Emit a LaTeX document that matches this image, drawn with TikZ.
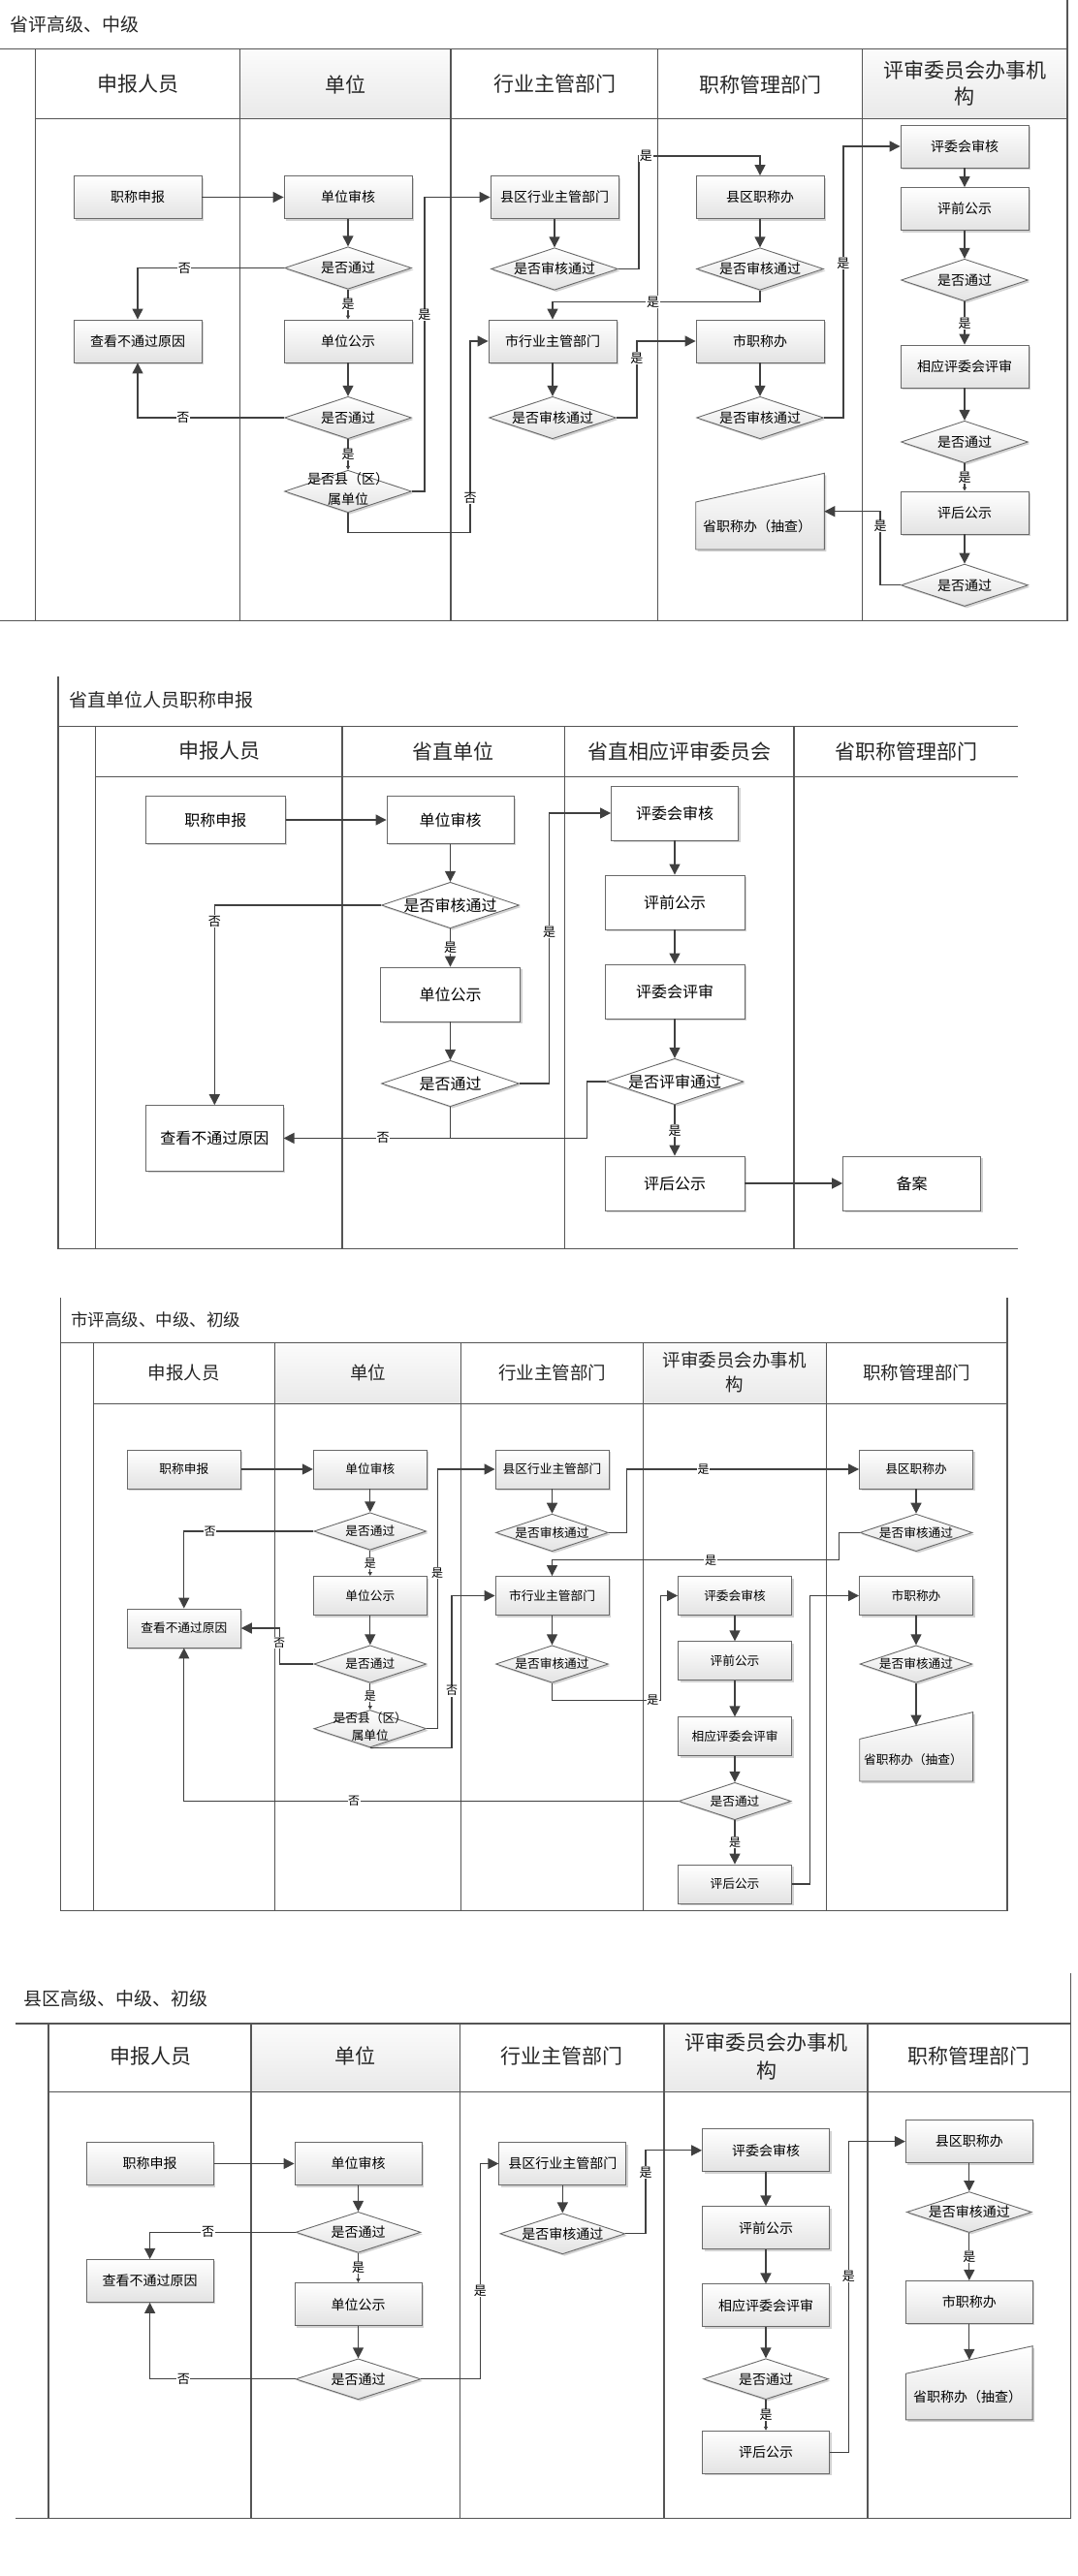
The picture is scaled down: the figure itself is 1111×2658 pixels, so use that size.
\documentclass[tikz,border=0pt]{standalone}
\usepackage{fontspec}
\setmainfont{Noto Sans CJK SC}
\usetikzlibrary{shapes.geometric,arrows.meta,shadows}
\definecolor{lanec}{RGB}{85,85,85}
\definecolor{boxc}{RGB}{105,105,105}
\definecolor{arrc}{RGB}{64,64,64}
\newcommand{\fs}[2]{\fontsize{#1}{#2}\selectfont}
\newcommand{\dtwo}[3]{\makebox[0pt]{\begin{tabular}{@{}c@{}}#1\\[#3]#2\end{tabular}}}
\begin{document}
\begin{tikzpicture}[x=1pt,y=-1pt,
   lane/.style={draw=lanec,line width=1.2pt},
   hgray/.style={top color=gray!3,bottom color=gray!17},
   ttl/.style={anchor=west,font=\fs{19}{22},text=black!85},
   head/.style={align=center,font=\fs{21}{27},text=black!85},
   box/.style={draw=boxc,line width=0.9pt,top color=white,bottom color=gray!22,inner sep=0pt,
      drop shadow={shadow xshift=2pt,shadow yshift=-2pt,fill=gray!50,opacity=0.7}},
   wbox/.style={box,top color=white,bottom color=white},
   dia/.style={box,diamond,aspect=3},
   wdia/.style={wbox,diamond,aspect=3},
   szA/.style={minimum width=132pt,minimum height=44pt,font=\fs{14}{17}},
   dszA/.style={minimum width=131pt,minimum height=43.5pt,font=\fs{14}{17}},
   szB/.style={minimum width=144pt,minimum height=56pt,font=\fs{16}{19}},
   dszB/.style={minimum width=142pt,minimum height=47.5pt,font=\fs{16}{19}},
   szC/.style={minimum width=117pt,minimum height=40pt,font=\fs{12.7}{15}},
   dszC/.style={minimum width=116pt,minimum height=38.5pt,font=\fs{12.7}{15}},
   szD/.style={minimum width=131pt,minimum height=44pt,font=\fs{14}{17}},
   dszD/.style={minimum width=129pt,minimum height=42pt,font=\fs{14}{17}},
   arr/.style={draw=arrc,line width=1.3pt,-{Triangle[width=11pt,length=11pt]}},
   sarr/.style={arr,-{Triangle[width=4pt,length=4pt]}},
   link/.style={draw=arrc,line width=1.3pt},
   lbl/.style={fill=white,inner sep=0.6pt,font=\fs{13}{13}},
   lblC/.style={lbl,font=\fs{12}{12}}]
   \useasboundingbox (0,0) rectangle (1111,2658);

   %省评高级、中级
   \shade[hgray] (247.5,50.6) rectangle (465,122.7);
   \shade[hgray] (889.6,50.6) rectangle (1101,122.7);
   \draw[lane] (0,50.6) -- (1101,50.6) (36.8,122.7) -- (1101,122.7) (0,640.5) -- (1101,640.5) (1101,0) -- (1101,640.5)
      (36.8,50.6) -- (36.8,640.5) (247.5,50.6) -- (247.5,640.5) (465,50.6) -- (465,640.5)
      (678.4,50.6) -- (678.4,640.5) (889.6,50.6) -- (889.6,640.5);
   \node[ttl] (aT) at (7,25) {省评高级、中级};
   \node[head] (aH1) at (142.2,87) {申报人员};
   \node[head] (aH2) at (356.2,87) {单位};
   \node[head] (aH3) at (572,87) {行业主管部门};
   \node[head] (aH4) at (784,87) {职称管理部门};
   \node[head] (aH5) at (995,86) {评审委员会办事机\\构};
   %boxes
   \node[box,szA] (aApply) at (142,203.5) {职称申报};
   \node[box,szA] (aUnitChk) at (359,203.5) {单位审核};
   \node[dia,dszA] (aD1) at (359,276.5) {是否通过};
   \node[box,szA] (aView) at (142,352) {查看不通过原因};
   \node[box,szA] (aUnitPub) at (359,352) {单位公示};
   \node[dia,dszA] (aD2) at (359,431) {是否通过};
   \node[dia,dszA] (aD3) at (359,507) {\dtwo{是否县（区）}{属单位}{4pt}};
   \node[box,szA] (aCounty) at (572,203.5) {县区行业主管部门};
   \node[dia,dszA] (aCD) at (572,277.5) {是否审核通过};
   \node[box,szA] (aCity) at (570,352) {市行业主管部门};
   \node[dia,dszA] (aCityD) at (570,431) {是否审核通过};
   \node[box,szA] (aCtyOff) at (784,203.5) {县区职称办};
   \node[dia,dszA] (aCtyOffD) at (784,277.5) {是否审核通过};
   \node[box,szA] (aCityOff) at (784,352) {市职称办};
   \node[dia,dszA] (aCityOffD) at (784,431) {是否审核通过};
   \draw[box] (717.7,567) -- (717.7,518) -- (850.3,488.3) -- (850.3,567) -- cycle;
   \node[font=\fs{14}{17}] (aProv) at (781,543) {省职称办（抽查）};
   \coordinate (aProvIn) at (850.3,527.7);
   \node[box,szA] (aRev) at (995,151) {评委会审核};
   \node[box,szA] (aPre) at (995,215.5) {评前公示};
   \node[dia,dszA] (aRD1) at (995,289) {是否通过};
   \node[box,szA] (aJudge) at (995,378) {相应评委会评审};
   \node[dia,dszA] (aRD2) at (995,456) {是否通过};
   \node[box,szA] (aPost) at (995,529) {评后公示};
   \node[dia,dszA] (aRD3) at (995,603.8) {是否通过};
   %arrows
   \draw[arr] (aApply) -- (aUnitChk);
   \draw[arr] (aUnitChk) -- (aD1);
   \draw[arr] (aD1.west) -| node[lbl,pos=0.34] (aL1) {否} (aView.north);
   \draw[sarr] (aD1) -- node[lbl] (aL2) {是} (aUnitPub);
   \draw[arr] (aUnitPub) -- (aD2);
   \draw[arr] (aD2.west) -| node[lbl,pos=0.345] (aL3) {否} (aView.south);
   \draw[sarr] (aD2) -- node[lbl] (aL4) {是} (aD3);
   \draw[arr] (aD3.east) -- ++(13,0) |- node[lbl,pos=0.3] (aL5) {是} (aCounty.west);
   \draw[arr] (aD3.south) -- ++(0,20.5) -- ++(126,0) |- node[lbl,pos=0.09] (aL6) {否} (aCity.west);
   \draw[arr] (aCounty) -- (aCD);
   \draw[arr] (aCD.east) -- ++(21,0) -- ++(0,-116.5) -| node[lbl,pos=0.03] (aL7) {是} (aCtyOff.north);
   \draw[arr] (aCtyOff) -- (aCtyOffD);
   \draw[arr] (aCtyOffD.south) -- ++(0,12) -| node[lbl,pos=0.258] (aL8) {是} (aCity.north);
   \draw[arr] (aCity) -- (aCityD);
   \draw[arr] (aCityD.east) -- ++(21,0) |- node[lbl,pos=0.39] (aL9) {是} (aCityOff.west);
   \draw[arr] (aCityOff) -- (aCityOffD);
   \draw[arr] (aCityOffD.east) -- ++(20,0) |- node[lbl,pos=0.285] (aL10) {是} (aRev.west);
   \draw[arr] (aRev) -- (aPre);
   \draw[arr] (aPre) -- (aRD1);
   \draw[arr] (aRD1) -- node[lbl] (aL11) {是} (aJudge);
   \draw[arr] (aJudge) -- (aRD2);
   \draw[sarr] (aRD2) -- node[lbl] (aL12) {是} (aPost);
   \draw[arr] (aPost) -- (aRD3);
   \draw[arr] (aRD3.west) -- ++(-21,0) |- node[lbl,pos=0.4] (aL13) {是} (aProvIn);

   %省直单位人员职称申报
   \draw[lane] (60,697.8) -- (60,1288.5) (60,749.2) -- (1049.8,749.2) (98.2,801.8) -- (1049.8,801.8)
      (60,1288.5) -- (1049.8,1288.5) (98.2,749.2) -- (98.2,1288.5) (352.9,749.2) -- (352.9,1288.5)
      (582.2,749.2) -- (582.2,1288.5) (819,749.2) -- (819,1288.5);
   \node[ttl] (bT) at (68,722.7) {省直单位人员职称申报};
   \node[head] (bH1) at (226.8,775) {申报人员};
   \node[head] (bH2) at (467.9,775) {省直单位};
   \node[head] (bH3) at (700.5,775) {省直相应评审委员会};
   \node[head] (bH4) at (935,775) {省职称管理部门};
   %boxes
   \node[wbox,szB,minimum height=48.6pt] (bApply) at (222.3,846) {职称申报};
   \node[wbox,szB,minimum width=131pt,minimum height=48.6pt] (bUnitChk) at (464.5,846) {单位审核};
   \node[wdia,dszB] (bD1) at (464.5,934) {是否审核通过};
   \node[wbox,szB] (bUnitPub) at (464.5,1026) {单位公示};
   \node[wdia,dszB] (bD2) at (464.5,1118) {是否通过};
   \node[wbox,szB,minimum width=141.6pt,minimum height=67.6pt] (bView) at (221.3,1174.4) {查看不通过原因};
   \node[wbox,szB,minimum width=131pt] (bRev) at (696,839) {评委会审核};
   \node[wbox,szB] (bPre) at (696,931) {评前公示};
   \node[wbox,szB] (bJudge) at (696,1023) {评委会评审};
   \node[wdia,dszB] (bRD) at (696,1116) {是否评审通过};
   \node[wbox,szB] (bPost) at (696,1221) {评后公示};
   \node[wbox,szB,minimum width=142pt] (bFile) at (940.6,1221) {备案};
   %arrows
   \draw[arr] (bApply) -- (bUnitChk);
   \draw[arr] (bUnitChk) -- (bD1);
   \draw[arr] (bD1.west) -| node[lbl,pos=0.54] (bL1) {否} (bView.north);
   \draw[arr] (bD1) -- node[lbl] (bL2) {是} (bUnitPub);
   \draw[arr] (bUnitPub) -- (bD2);
   \draw[arr] (bD2.east) -- ++(30.7,0) |- node[lbl,pos=0.28] (bL3) {是} (bRev.west);
   \draw[arr] (bRev) -- (bPre);
   \draw[arr] (bPre) -- (bJudge);
   \draw[arr] (bJudge) -- (bRD);
   \draw[arr] (bRD.west) -- ++(-19.3,0) |- node[lbl,pos=0.836] (bL4) {否} (bView.east);
   \draw[link] (bD2.south) -- (bD2.south |- bView.east);
   \draw[arr] (bRD) -- node[lbl] (bL5) {是} (bPost);
   \draw[arr] (bPost) -- (bFile);

   %市评高级、中级、初级
   \shade[hgray] (283.2,1385.4) rectangle (475.7,1448.2);
   \shade[hgray] (663.8,1385.4) rectangle (852.1,1448.2);
   \draw[lane] (62.5,1339) -- (62.5,1971.7) (1038.9,1339) -- (1038.9,1971.7) (62.5,1385.4) -- (1038.9,1385.4)
      (96.4,1448.2) -- (1038.9,1448.2) (62.5,1971.7) -- (1038.9,1971.7) (96.4,1385.4) -- (96.4,1971.7)
      (283.2,1385.4) -- (283.2,1971.7) (475.7,1385.4) -- (475.7,1971.7) (663.8,1385.4) -- (663.8,1971.7)
      (852.1,1385.4) -- (852.1,1971.7);
   \node[ttl,font=\fs{17.5}{21}] (cT) at (69.6,1361.5) {市评高级、中级、初级};
   \node[head,font=\fs{18.5}{25.7}] (cH1) at (189.8,1416) {申报人员};
   \node[head,font=\fs{18.5}{25.7}] (cH2) at (379.5,1416) {单位};
   \node[head,font=\fs{18.5}{25.7}] (cH3) at (569.8,1416) {行业主管部门};
   \node[head,font=\fs{18.5}{25.7}] (cH4) at (757.9,1416) {评审委员会办事机\\构};
   \node[head,font=\fs{18.5}{25.7}] (cH5) at (945.5,1416) {职称管理部门};
   %boxes
   \node[box,szC] (cApply) at (189.8,1516) {职称申报};
   \node[box,szC] (cUnitChk) at (381.8,1516) {单位审核};
   \node[dia,dszC] (cD1) at (381.8,1580) {是否通过};
   \node[box,szC] (cUnitPub) at (381.8,1646.5) {单位公示};
   \node[dia,dszC] (cD2) at (381.8,1717) {是否通过};
   \node[dia,dszC] (cD3) at (381.8,1783.7) {\dtwo{是否县（区）}{属单位}{2.6pt}};
   \node[box,szC] (cView) at (189.8,1680) {查看不通过原因};
   \node[box,szC] (cCounty) at (569.5,1516) {县区行业主管部门};
   \node[dia,dszC] (cCD) at (569.5,1581.4) {是否审核通过};
   \node[box,szC] (cCity) at (569.5,1646.5) {市行业主管部门};
   \node[dia,dszC] (cCityD) at (569.5,1717) {是否审核通过};
   \node[box,szC] (cRev) at (758,1646.5) {评委会审核};
   \node[box,szC] (cPre) at (758,1713.8) {评前公示};
   \node[box,szC] (cJudge) at (758,1791.8) {相应评委会评审};
   \node[dia,dszC] (cRD) at (758,1858.5) {是否通过};
   \node[box,szC] (cPost) at (758,1944) {评后公示};
   \node[box,szC] (cCtyOff) at (945,1516) {县区职称办};
   \node[dia,dszC] (cCtyOffD) at (945,1581.4) {是否审核通过};
   \node[box,szC] (cCityOff) at (945,1646.5) {市职称办};
   \node[dia,dszC] (cCityOffD) at (945,1717) {是否审核通过};
   \draw[box] (886.7,1838) -- (886.7,1794.4) -- (1003.6,1766.6) -- (1003.6,1838) -- cycle;
   \node[font=\fs{12.7}{15}] (cProv) at (942,1815.7) {省职称办（抽查）};
   \coordinate (cProvIn) at (945,1780.5);
   %arrows
   \draw[arr] (cApply) -- (cUnitChk);
   \draw[arr] (cUnitChk) -- (cD1);
   \draw[arr] (cD1.west) -| node[lblC,pos=0.4] (cL1) {否} (cView.north);
   \draw[sarr] (cD1) -- node[lblC] (cL2) {是} (cUnitPub);
   \draw[arr] (cUnitPub) -- (cD2);
   \draw[arr] (cD2.west) -- ++(-35.2,0) |- node[lblC,pos=0.3] (cL3) {否} (cView.east);
   \draw[sarr] (cD2) -- node[lblC] (cL4) {是} (cD3);
   \draw[arr] (cD3.east) -- ++(10.9,0) |- node[lblC,pos=0.3] (cL5) {是} (cCounty.west);
   \draw[arr] (cD3.south) -- ++(84.2,0) |- node[lblC,pos=0.187] (cL6) {否} (cCity.west);
   \draw[arr] (cRD.west) -| node[lblC,pos=0.328] (cL7) {否} (cView.south);
   \draw[arr] (cCounty) -- (cCD);
   \draw[arr] (cCD.east) -- ++(18.8,0) |- node[lblC,pos=0.665] (cL8) {是} (cCtyOff.west);
   \draw[arr] (cCtyOff) -- (cCtyOffD);
   \draw[arr] (cCtyOffD.west) -- ++(-20.8,0) -- ++(0,28.3) -| node[lblC,pos=0.224] (cL9) {是} (cCity.north);
   \draw[arr] (cCity) -- (cCityD);
   \draw[arr] (cCityD.south) -- ++(0,17.5) -- node[lblC,pos=0.93] (cL10) {是} ++(111.8,0) |- (cRev.west);
   \draw[arr] (cRev) -- (cPre);
   \draw[arr] (cPre) -- (cJudge);
   \draw[arr] (cJudge) -- (cRD);
   \draw[arr] (cRD) -- node[lblC] (cL11) {是} (cPost);
   \draw[arr] (cPost.east) -- ++(18.5,0) |- (cCityOff.west);
   \draw[arr] (cCityOff) -- (cCityOffD);
   \draw[arr] (cCityOffD.south) -- (cProvIn);

   %县区高级、中级、初级
   \shade[hgray] (258.9,2088) rectangle (474.3,2158.3);
   \shade[hgray] (685,2088) rectangle (895,2158.3);
   \draw[lane] (1104.5,2036) -- (1104.5,2598.5) (16,2088) -- (1104.5,2088) (50,2158.3) -- (1104.5,2158.3)
      (16,2598.5) -- (1104.5,2598.5) (50,2088) -- (50,2598.5) (258.9,2088) -- (258.9,2598.5)
      (474.3,2088) -- (474.3,2598.5) (685,2088) -- (685,2598.5) (895,2088) -- (895,2598.5);
   \node[ttl] (dT) at (20.7,2061.9) {县区高级、中级、初级};
   \node[head] (dH1) at (155.4,2121.7) {申报人员};
   \node[head] (dH2) at (366.6,2121.7) {单位};
   \node[head] (dH3) at (579.6,2121.7) {行业主管部门};
   \node[head,font=\fs{21}{28.5}] (dH4) at (790.5,2121.7) {评审委员会办事机\\构};
   \node[head] (dH5) at (999.6,2121.7) {职称管理部门};
   %boxes
   \node[box,szD] (dApply) at (154.6,2232.5) {职称申报};
   \node[box,szD] (dUnitChk) at (369.5,2232.5) {单位审核};
   \node[dia,dszD] (dD1) at (369.5,2303.3) {是否通过};
   \node[box,szD] (dUnitPub) at (369.5,2377.6) {单位公示};
   \node[dia,dszD] (dD2) at (369.5,2454.8) {是否通过};
   \node[box,szD] (dView) at (154.6,2353.4) {查看不通过原因};
   \node[box,szD] (dCounty) at (580.3,2232.5) {县区行业主管部门};
   \node[dia,dszD] (dCD) at (580.3,2304.8) {是否审核通过};
   \node[box,szD] (dRev) at (790,2218.8) {评委会审核};
   \node[box,szD] (dPre) at (790,2298.9) {评前公示};
   \node[box,szD] (dJudge) at (790,2378.9) {相应评委会评审};
   \node[dia,dszD] (dRD) at (790,2454.7) {是否通过};
   \node[box,szD] (dPost) at (790,2530.2) {评后公示};
   \node[box,szD] (dCtyOff) at (999.8,2209.6) {县区职称办};
   \node[dia,dszD] (dCtyOffD) at (999.8,2282.5) {是否审核通过};
   \node[box,szD] (dCityOff) at (999.8,2375.4) {市职称办};
   \draw[box] (934.4,2496.8) -- (934.4,2449.2) -- (1065.1,2420.7) -- (1065.1,2496.8) -- cycle;
   \node[font=\fs{14}{17}] (dProv) at (998,2473.6) {省职称办（抽查）};
   \coordinate (dProvIn) at (999.8,2434.9);
   %arrows
   \draw[arr] (dApply) -- (dUnitChk);
   \draw[arr] (dUnitChk) -- (dD1);
   \draw[arr] (dD1.west) -| node[lbl,pos=0.3] (dL1) {否} (dView.north);
   \draw[sarr] (dD1) -- node[lbl] (dL2) {是} (dUnitPub);
   \draw[arr] (dUnitPub) -- (dD2);
   \draw[arr] (dD2.west) -| node[lbl,pos=0.384] (dL3) {否} (dView.south);
   \draw[arr] (dD2.east) -- ++(60.9,0) |- node[lbl,pos=0.205] (dL4) {是} (dCounty.west);
   \draw[arr] (dCounty) -- (dCD);
   \draw[arr] (dCD.east) -- ++(20.8,0) |- node[lbl,pos=0.367] (dL5) {是} (dRev.west);
   \draw[arr] (dRev) -- (dPre);
   \draw[arr] (dPre) -- (dJudge);
   \draw[arr] (dJudge) -- (dRD);
   \draw[sarr] (dRD) -- node[lbl] (dL6) {是} (dPost);
   \draw[arr] (dPost.east) -- ++(19.5,0) |- node[lbl,pos=0.283] (dL7) {是} (dCtyOff.west);
   \draw[arr] (dCtyOff) -- (dCtyOffD);
   \draw[arr] (dCtyOffD) -- node[lbl] (dL8) {是} (dCityOff);
   \draw[arr] (dCityOff) -- (dProvIn);
\end{tikzpicture}
\end{document}
